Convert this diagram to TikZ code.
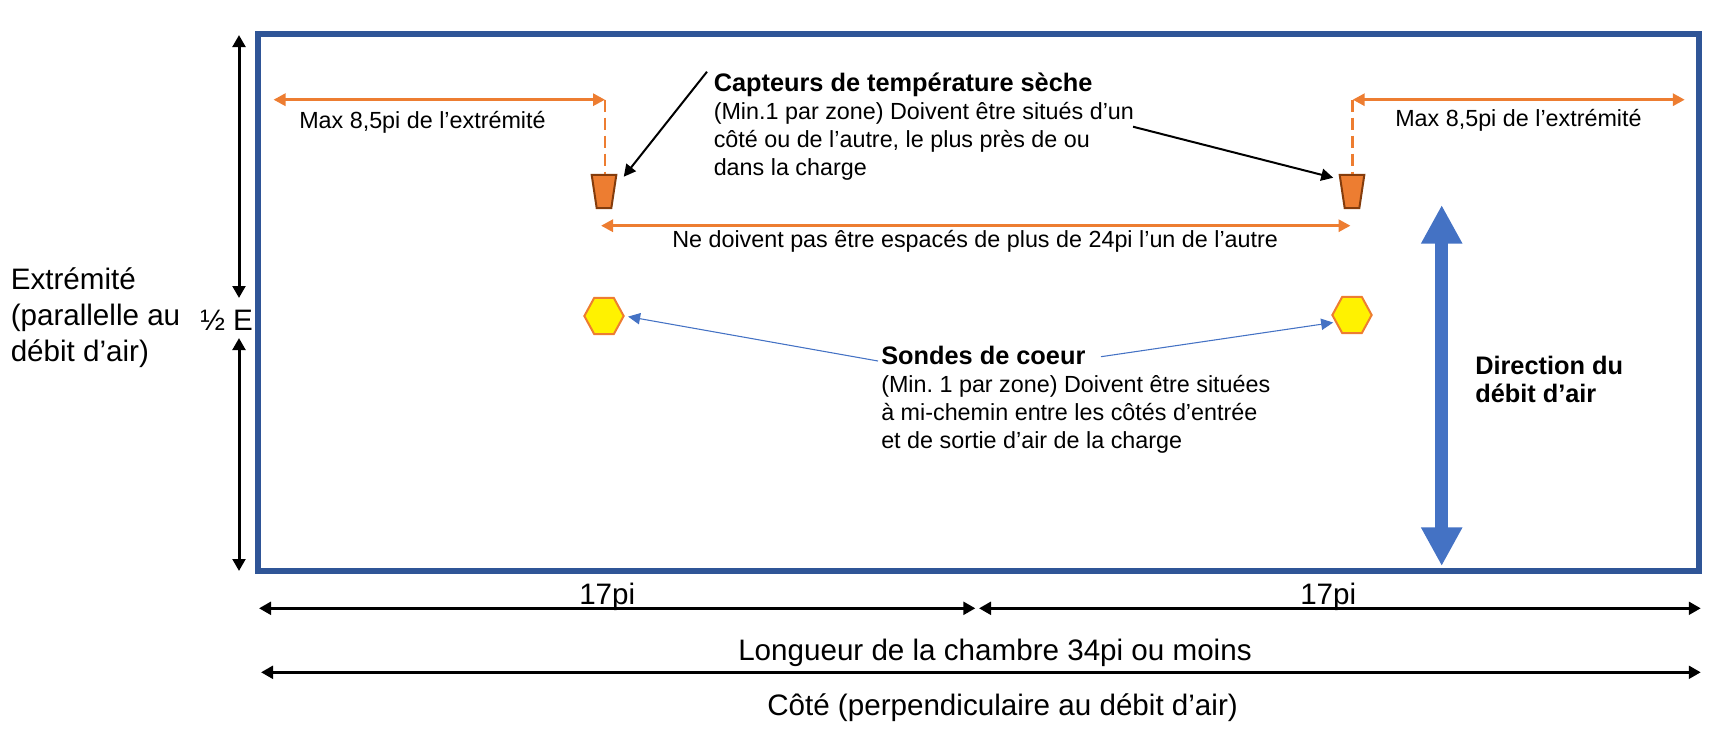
\documentclass[tikz,border=0pt]{standalone}
\usepackage{fontspec}
\setmainfont{Liberation Sans}
\usetikzlibrary{shapes.geometric,arrows.meta,calc}
\definecolor{roomblue}{HTML}{2F5597}
\definecolor{flowblue}{HTML}{4472C4}
\definecolor{probeorange}{HTML}{ED7D31}
\definecolor{probebrown}{HTML}{843C0C}
\newcommand{\headline}[1]{{\fontsize{19}{21}\selectfont\bfseries #1}}
\tikzstyle{room}=[
  draw=roomblue,line width=4.5pt,inner sep=0pt,minimum width=1081pt,minimum height=402.75pt
]
\tikzstyle{bigtext}=[
  font=\fontsize{22.2}{26.8}\selectfont,inner sep=0pt,align=left,anchor=base west
]
\tikzstyle{smalltext}=[
  font=\fontsize{17.5}{21}\selectfont,inner sep=0pt,align=left,anchor=base west
]
\tikzstyle{dimarrow}=[
  line width=2.25pt,{Triangle[length=9pt,width=9.5pt]}-{Triangle[length=9pt,width=9.5pt]}
]
\tikzstyle{limitarrow}=[
  probeorange,line width=2.25pt,{Triangle[length=9pt,width=9pt]}-{Triangle[length=9pt,width=9pt]}
]
\tikzstyle{limitdash}=[
  probeorange,line width=2.1pt,dash pattern=on 9.5pt off 4pt
]
\tikzstyle{calloutarrow}=[
  line width=1.5pt,-{Triangle[length=9pt,width=9pt]}
]
\tikzstyle{probearrow}=[
  flowblue,line width=0.8pt,-{Triangle[length=9pt,width=8.5pt]}
]
\tikzstyle{flowarrow}=[
  flowblue,line width=9.75pt,{Triangle[length=29pt,width=29pt]}-{Triangle[length=29pt,width=29pt]}
]
\tikzstyle{drybulb}=[
  draw=probebrown,fill=probeorange,line width=1.5pt,trapezium,shape border rotate=180,
  trapezium left angle=71,trapezium right angle=71,trapezium stretches=true,
  inner sep=1pt,minimum width=18.5pt,minimum height=25pt
]
\tikzstyle{coreprobe}=[
  draw=probeorange,fill=yellow,line width=1.5pt,regular polygon,regular polygon sides=6,
  inner sep=0pt,minimum size=29.5pt,yscale=1.06,transform shape
]
\begin{document}
\frenchspacing
\begin{tikzpicture}[x=0.75pt,y=-0.75pt]
    \useasboundingbox (0,0) rectangle (1732,733);
    \node (chamber) at (978.75,302.5) [room] {};
    \node (trapL) at (604,191.5) [drybulb] {};
    \node (trapR) at (1352,191.5) [drybulb] {};
    \node (hexL) at (604,316) [coreprobe] {};
    \node (hexR) at (1352,315) [coreprobe] {};

    \node (endL) at (10.5,361) [bigtext] {Extrémité\\(parallelle au\\débit d’air)};
    \node (halfE) at (200,330) [bigtext] {½ E};
    \node (maxL) at (299,128.3) [smalltext] {Max 8,5pi de l’extrémité};
    \node (maxR) at (1395,126.7) [smalltext] {Max 8,5pi de l’extrémité};
    \node (dry) at (713.5,175) [smalltext] {\headline{Capteurs de température sèche}\\(Min.1 par zone) Doivent être situés d’un\\côté ou de l’autre, le plus près de ou\\dans la charge};
    \node (spacing) at (672,247.7) [smalltext] {Ne doivent pas être espacés de plus de 24pi l’un de l’autre};
    \node (core) at (881,448) [smalltext] {\headline{Sondes de coeur}\\(Min. 1 par zone) Doivent être situées\\à mi-chemin entre les côtés d’entrée\\et de sortie d’air de la charge};
    \node (flow) at (1475,402) [smalltext] {\headline{Direction du}\\\headline{débit d’air}};
    \node (halfL) at (579,604) [bigtext] {17pi};
    \node (halfR) at (1300,604) [bigtext] {17pi};
    \node (length) at (738,660.3) [bigtext] {Longueur de la chambre 34pi ou moins};
    \node (side) at (767,715) [bigtext] {Côté (perpendiculaire au débit d’air)};

    \coordinate (topE) at (239,35);
    \coordinate (midEa) at (239,298);
    \coordinate (midEb) at (239,338);
    \coordinate (botE) at (239,571);
    \draw [dimarrow] (topE) -- (midEa);
    \draw [dimarrow] (midEb) -- (botE);

    \coordinate (wallL) at (273.5,99.7);
    \coordinate (limitL) at (605,99.7);
    \coordinate (limitR) at (1352.7,99.7);
    \coordinate (wallR) at (1684.8,99.7);
    \draw [limitarrow] (wallL) -- (limitL);
    \draw [limitarrow] (limitR) -- (wallR);
    \draw [limitdash] (limitL) -- (limitL |- trapL.north);
    \draw [limitdash] (limitR) -- (limitR |- trapR.north);

    \coordinate (gapL) at (601,225.7);
    \coordinate (gapR) at (1350.5,225.7);
    \draw [limitarrow] (gapL) -- (gapR);

    \coordinate (dryA) at (707,71.7);
    \coordinate (dryB) at (1133,126.7);
    \draw [calloutarrow] (dryA) -- ($(trapL.north east)+(7,-2)$);
    \draw [calloutarrow] (dryB) -- ($(trapR.north west)+(-6,-1)$);

    \coordinate (coreA) at (878,361);
    \coordinate (coreB) at (1101,356.7);
    \draw [probearrow,shorten >=2.5pt] (coreA) -- (hexL.east);
    \draw [probearrow,shorten >=1.5pt] (coreB) -- (hexR.202);

    \coordinate (flowT) at (1441.7,205);
    \coordinate (flowB) at (1441.7,566);
    \draw [flowarrow] (flowT) -- (flowB);

    \coordinate (lenL) at (259,608.3);
    \coordinate (lenM) at (975.4,608.3);
    \coordinate (lenN) at (979,608.3);
    \coordinate (lenR) at (1700.8,608.3);
    \coordinate (sideL) at (261,672.3);
    \coordinate (sideR) at (1700.8,672.3);
    \draw [dimarrow] (lenL) -- (lenM);
    \draw [dimarrow] (lenN) -- (lenR);
    \draw [dimarrow] (sideL) -- (sideR);
\end{tikzpicture}
\end{document}
